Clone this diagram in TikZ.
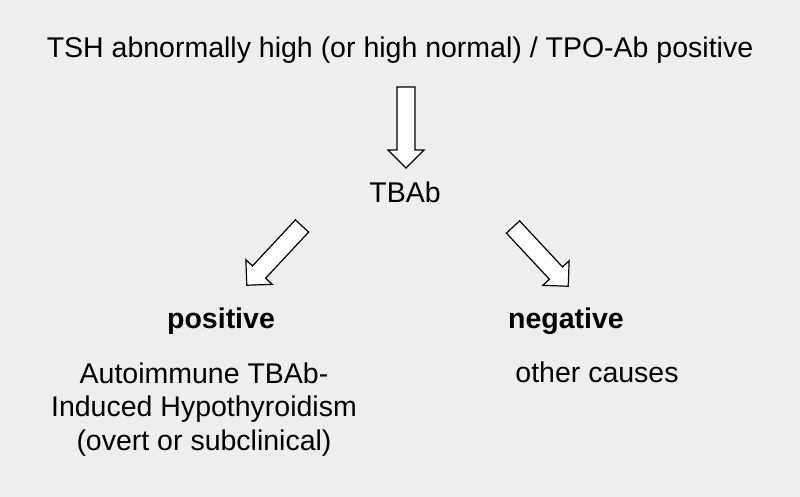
\documentclass[tikz,border=0pt]{standalone}
\usepackage{fontspec}
\setmainfont{Liberation Sans}
\definecolor{bg}{HTML}{EEEEEE}
\tikzset{
  lbl/.style={anchor=base, inner sep=0pt, font=\fontsize{28.5}{33.5}\selectfont},
  blbl/.style={lbl, font=\fontsize{28.5}{33.5}\selectfont\bfseries},
  blockarrow/.style={draw=black, fill=white, line width=1.2pt, line join=miter}
}
\newcommand{\blockarr}{(-9,0) -- (-9,63) -- (-18,63) -- (0,81) -- (18,63) -- (9,63) -- (9,0) -- cycle}
\begin{document}
\begin{tikzpicture}[x=1pt,y=-1pt]
\fill[bg] (0,0) rectangle (800,497);
\useasboundingbox (0,0) rectangle (800,497);
\node[lbl] (top) at (400,58) {TSH abnormally high (or high normal) / TPO-Ab positive};
\node[lbl] (tbab) at (405,203) {TBAb};
\node[blbl] (pos) at (221,328) {positive};
\node[blbl] (neg) at (566,328) {negative};
\node[lbl, align=center, anchor=base] (auto) at (204,450) {Autoimmune TBAb-\\Induced Hypothyroidism\\(overt or subclinical)};
\node[lbl] (other) at (597,382) {other causes};
\begin{scope}[shift={(406,87)}]
  \draw[blockarrow] \blockarr;
\end{scope}
\begin{scope}[shift={(302,226)}, rotate=-43]
  \draw[blockarrow] \blockarr;
\end{scope}
\begin{scope}[shift={(513,227)}, rotate=43]
  \draw[blockarrow] \blockarr;
\end{scope}
\end{tikzpicture}
\end{document}
